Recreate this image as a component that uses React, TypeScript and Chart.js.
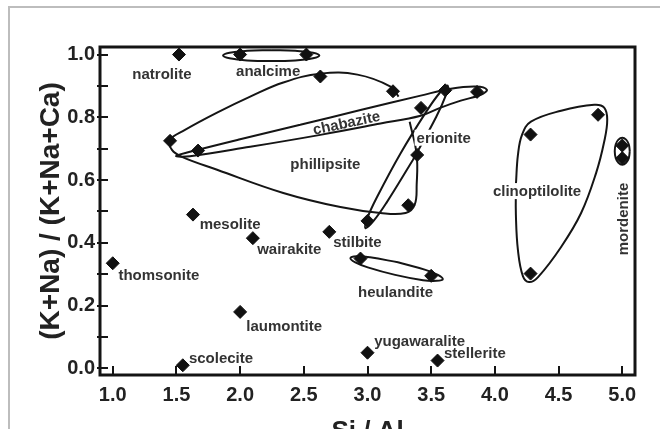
import React, { useEffect, useRef } from "react";
import { Chart, registerables } from "chart.js";

Chart.register(...registerables);

type XY = [number, number];

const FONT = '"Liberation Sans", Arial, Helvetica, sans-serif';

// axis ticks
const xTickValues = [1.0, 1.5, 2.0, 2.5, 3.0, 3.5, 4.0, 4.5, 5.0];
const yTickValues = [0.0, 0.2, 0.4, 0.6, 0.8, 1.0];
const yMinorTickValues = [0.1, 0.3, 0.5, 0.7, 0.9];

// zeolite compositions: [Si/Al, (K+Na)/(K+Na+Ca)]
const natrolite: XY[] = [[1.52, 1.0]];
const analcime: XY[] = [[2.0, 1.0], [2.52, 1.0]];
const phillipsite: XY[] = [[1.45, 0.725], [2.63, 0.93], [3.2, 0.883], [3.39, 0.68], [3.32, 0.52], [3.0, 0.47]];
const chabazite: XY[] = [[1.67, 0.694], [3.42, 0.83], [3.61, 0.886], [3.86, 0.881]];
const heulandite: XY[] = [[2.945, 0.35], [3.5, 0.295]];
const clinoptilolite: XY[] = [[4.28, 0.745], [4.81, 0.808], [4.28, 0.302]];
const mordenite: XY[] = [[5.0, 0.71], [5.0, 0.67]];
const mesolite: XY[] = [[1.63, 0.49]];
const wairakite: XY[] = [[2.1, 0.415]];
const stilbite: XY[] = [[2.7, 0.435]];
const thomsonite: XY[] = [[1.0, 0.335]];
const laumontite: XY[] = [[2.0, 0.18]];
const scolecite: XY[] = [[1.55, 0.01]];
const yugawaralite: XY[] = [[3.0, 0.05]];
const stellerite: XY[] = [[3.55, 0.025]];

// composition fields (outline vertices in Si/Al, ratio units)
const analcimeField: XY[] = [
  [2.244, 1.014], [2.433, 1.012], [2.572, 1.006], [2.622, 0.997], [2.572, 0.988], [2.433, 0.981],
  [2.244, 0.979], [2.055, 0.981], [1.917, 0.988], [1.866, 0.997], [1.917, 1.006], [2.055, 1.012], [2.244, 1.014],
];
const phillipsiteField: XY[] = [
  [3.244, 0.866], [3.181, 0.898], [2.921, 0.936], [2.63, 0.939], [2.339, 0.911], [2.079, 0.866],
  [1.819, 0.815], [1.567, 0.76], [1.449, 0.728], [1.465, 0.696], [1.543, 0.674], [1.819, 0.633],
  [2.339, 0.559], [2.787, 0.514], [3.102, 0.495], [3.299, 0.495], [3.37, 0.521], [3.386, 0.585],
  [3.386, 0.681], [3.331, 0.786],
];
const chabaziteField: XY[] = [
  [2.472, 0.776], [2.945, 0.823], [3.417, 0.869], [3.654, 0.891], [3.85, 0.898], [3.937, 0.888],
  [3.89, 0.872], [3.732, 0.853], [3.575, 0.831], [3.417, 0.805], [3.102, 0.78], [2.63, 0.744],
  [2.079, 0.706], [1.606, 0.676], [1.496, 0.677], [1.606, 0.69], [2.0, 0.73], [2.472, 0.776],
];
const erioniteField: XY[] = [
  [3.355, 0.663], [3.539, 0.801], [3.614, 0.869], [3.63, 0.901], [3.569, 0.879], [3.463, 0.819],
  [3.259, 0.685], [3.076, 0.547], [3.0, 0.48], [2.984, 0.447], [3.046, 0.469], [3.151, 0.529], [3.355, 0.663],
];
const heulanditeField: XY[] = [
  [3.239, 0.338], [3.455, 0.314], [3.553, 0.298], [3.591, 0.284], [3.542, 0.279], [3.436, 0.281],
  [3.217, 0.298], [3.002, 0.322], [2.904, 0.338], [2.866, 0.351], [2.915, 0.357], [3.02, 0.354], [3.239, 0.338],
];
const clinoptiloliteField: XY[] = [
  [4.165, 0.585], [4.181, 0.68], [4.213, 0.744], [4.283, 0.786], [4.52, 0.821], [4.78, 0.84],
  [4.858, 0.831], [4.882, 0.792], [4.858, 0.722], [4.795, 0.623], [4.677, 0.495], [4.52, 0.387],
  [4.339, 0.291], [4.268, 0.275], [4.22, 0.294], [4.181, 0.377], [4.165, 0.489], [4.165, 0.585],
];
const mordeniteField: XY[] = [
  [5.059, 0.692], [5.051, 0.714], [5.03, 0.729], [5.0, 0.735], [4.97, 0.729], [4.949, 0.714],
  [4.941, 0.692], [4.949, 0.67], [4.97, 0.655], [5.0, 0.649], [5.03, 0.655], [5.051, 0.67], [5.059, 0.692],
];

// mineral names and where they are written (Si/Al, ratio)
const labelNames = [
  "natrolite", "analcime", "chabazite", "phillipsite", "erionite", "clinoptilolite", "mordenite",
  "mesolite", "wairakite", "stilbite", "thomsonite", "heulandite", "laumontite", "scolecite",
  "yugawaralite", "stellerite",
];
const labelSiAl = [1.386, 2.22, 2.835, 2.669, 3.598, 4.331, 5.008, 1.921, 2.386, 2.921, 1.362, 3.22, 2.346, 1.85, 3.409, 3.843];
const labelRatio = [0.939, 0.947, 0.783, 0.652, 0.735, 0.565, 0.476, 0.46, 0.38, 0.403, 0.297, 0.243, 0.137, 0.035, 0.089, 0.051];

const labelRotation: Record<string, number> = { chabazite: -12, mordenite: -90 };
const backedLabels = new Set(["erionite", "clinoptilolite"]);

const toPoints = (arr: XY[]) => arr.map(([x, y]) => ({ x, y }));

const pointGroups: [string, XY[]][] = [
  ["natrolite", natrolite], ["analcime", analcime], ["phillipsite", phillipsite], ["chabazite", chabazite],
  ["heulandite", heulandite], ["clinoptilolite", clinoptilolite], ["mordenite", mordenite],
  ["mesolite", mesolite], ["wairakite", wairakite], ["stilbite", stilbite], ["thomsonite", thomsonite],
  ["laumontite", laumontite], ["scolecite", scolecite], ["yugawaralite", yugawaralite], ["stellerite", stellerite],
];
const fieldGroups: [string, XY[]][] = [
  ["analcime field", analcimeField], ["phillipsite field", phillipsiteField], ["chabazite field", chabaziteField],
  ["erionite field", erioniteField], ["heulandite field", heulanditeField],
  ["clinoptilolite field", clinoptiloliteField], ["mordenite field", mordeniteField],
];

const labelPlugin = {
  id: "mineralLabels",
  afterDatasetsDraw(chart: any) {
    const { ctx } = chart;
    const xs = chart.scales.x;
    const ys = chart.scales.y;
    ctx.save();
    ctx.font = `bold 15px ${FONT}`;
    ctx.textAlign = "center";
    ctx.textBaseline = "middle";
    labelNames.forEach((name, i) => {
      const px = xs.getPixelForValue(labelSiAl[i]);
      const py = ys.getPixelForValue(labelRatio[i]);
      ctx.save();
      ctx.translate(px, py);
      ctx.rotate(((labelRotation[name] || 0) * Math.PI) / 180);
      if (backedLabels.has(name)) {
        const w = ctx.measureText(name).width;
        ctx.fillStyle = "#ffffff";
        ctx.fillRect(-w / 2 - 2, -8, w + 4, 16);
      }
      ctx.fillStyle = "#333333";
      ctx.fillText(name, 0, 1);
      ctx.restore();
    });
    ctx.restore();
  },
};

const framePlugin = {
  id: "plotFrame",
  afterDatasetsDraw(chart: any) {
    const { ctx, chartArea: a } = chart;
    const xs = chart.scales.x;
    const ys = chart.scales.y;
    ctx.save();
    ctx.strokeStyle = "#141414";
    ctx.lineWidth = 2;
    ctx.beginPath();
    xTickValues.forEach((v) => {
      const px = Math.round(xs.getPixelForValue(v));
      ctx.moveTo(px, a.bottom);
      ctx.lineTo(px, a.bottom - 9);
    });
    [...yTickValues, ...yMinorTickValues].forEach((v) => {
      const py = Math.round(ys.getPixelForValue(v));
      ctx.moveTo(a.left - 3, py);
      ctx.lineTo(a.left + 8, py);
    });
    ctx.stroke();
    ctx.lineWidth = 3;
    ctx.strokeRect(a.left, a.top, a.right - a.left, a.bottom - a.top);
    ctx.restore();
  },
};

export default function App() {
  const canvasRef = useRef<HTMLCanvasElement | null>(null);

  useEffect(() => {
    if (!canvasRef.current) return;
    const datasets: any[] = [
      ...pointGroups.map(([name, arr]) => ({
        label: name,
        data: toPoints(arr),
        showLine: false,
        pointStyle: "rectRot",
        pointRadius: 6.5,
        pointHoverRadius: 6.5,
        pointBackgroundColor: "#111111",
        pointBorderColor: "#111111",
        pointBorderWidth: 1,
      })),
      ...fieldGroups.map(([name, arr]) => ({
        label: name,
        data: toPoints(arr),
        showLine: true,
        pointRadius: 0,
        pointHoverRadius: 0,
        borderColor: "#151515",
        borderWidth: 2,
        tension: 0.4,
        fill: false,
      })),
    ];

    const chart = new Chart(canvasRef.current, {
      type: "scatter",
      data: { datasets },
      options: {
        animation: false,
        responsive: false,
        events: [],
        layout: { padding: { top: 47, right: 25, left: 0, bottom: 0 } },
        plugins: { legend: { display: false }, tooltip: { enabled: false } },
        scales: {
          x: {
            type: "linear",
            min: 0.9,
            max: 5.1,
            afterBuildTicks: (s: any) => {
              s.ticks = xTickValues.map((v) => ({ value: v }));
            },
            afterFit: (s: any) => {
              s.height = 54;
            },
            grid: { display: false, drawTicks: false },
            border: { display: false },
            ticks: {
              padding: 8,
              color: "#222222",
              autoSkip: false,
              maxRotation: 0,
              font: { family: FONT, size: 20, weight: "bold" },
              callback: (v: any) => Number(v).toFixed(1),
            },
            title: {
              display: true,
              text: "Si / Al",
              color: "#222222",
              font: { family: FONT, size: 26, weight: "bold" },
              padding: { top: 0, bottom: -18 },
            },
          },
          y: {
            type: "linear",
            min: -0.021,
            max: 1.024,
            afterBuildTicks: (s: any) => {
              s.ticks = yTickValues.map((v) => ({ value: v }));
            },
            afterFit: (s: any) => {
              s.width = 100;
            },
            grid: { display: false, drawTicks: false },
            border: { display: false },
            ticks: {
              padding: 5,
              color: "#222222",
              font: { family: FONT, size: 20, weight: "bold" },
              callback: (v: any) => Number(v).toFixed(1),
            },
            title: {
              display: true,
              text: "(K+Na) / (K+Na+Ca)",
              color: "#222222",
              font: { family: FONT, size: 28, weight: "bold" },
              padding: { top: 34, bottom: 0 },
            },
          },
        },
      } as any,
      plugins: [labelPlugin, framePlugin],
    });

    return () => chart.destroy();
  }, []);

  return (
    <div
      style={{
        position: "fixed",
        left: 0,
        top: 0,
        width: 660,
        height: 429,
        background: "#ffffff",
        overflow: "hidden",
      }}
    >
      <div
        style={{
          position: "absolute",
          left: 8,
          top: 6,
          width: 700,
          height: 480,
          borderTop: "2px solid #bdbdbd",
          borderLeft: "2px solid #bdbdbd",
        }}
      />
      <canvas
        ref={canvasRef}
        width={660}
        height={429}
        style={{ position: "absolute", left: 0, top: 0, width: 660, height: 429 }}
      />
    </div>
  );
}
